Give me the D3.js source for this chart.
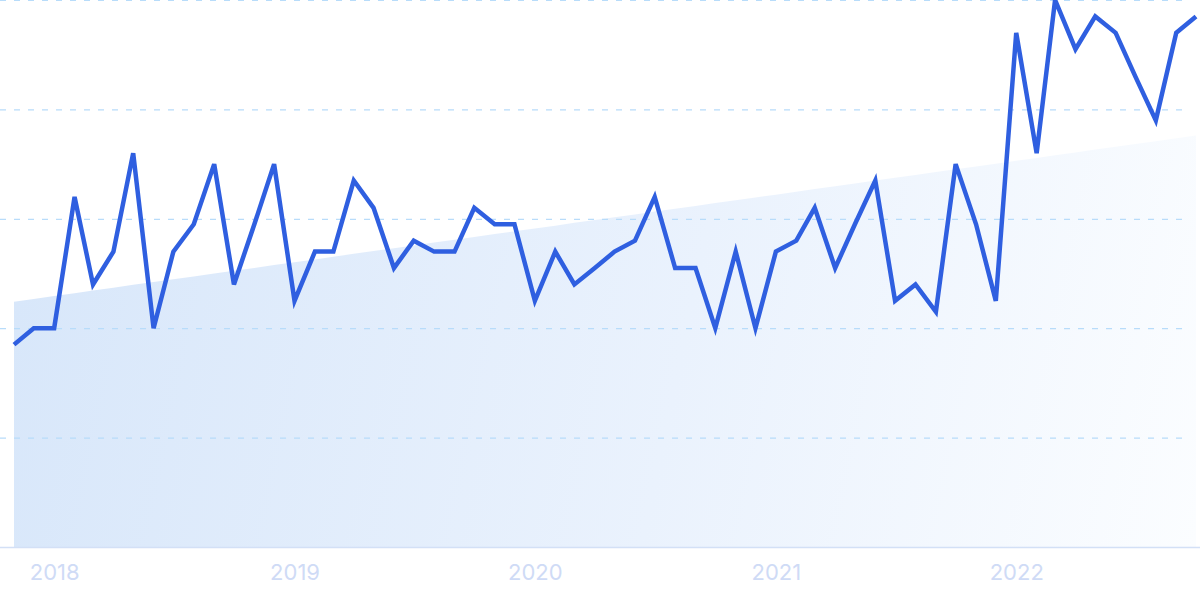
<!DOCTYPE html>
<html>
<head>
<meta charset="utf-8">
<script src="https://cdn.jsdelivr.net/npm/d3@7"></script>
<style>
  body { margin: 0; background: #fff; }
  svg { display: block; }
  .tick-label { font-family: Inter, "Noto Sans", sans-serif; font-size: 22px; fill: #cfdbf6; }
</style>
</head>
<body>
<div id="chart"></div>
<script>
// Chart size
const w = 1200;
const h = 599;
const padLeft = 14, padRight = 1196, padTop = 0, baseY = 547;

// Monthly interest values, Nov 2017 .. Oct 2022
const startMonth = [2017, 10]; // year, month index (0 = Jan)
const values = [
  37, 40, 40, 64, 48, 54, 72, 40, 54, 59,
  70, 48, 59, 70, 45, 54, 54, 67, 62, 51,
  56, 54, 54, 62, 59, 59, 45, 54, 48, 51,
  54, 56, 64, 51, 51, 40, 54, 40, 54, 56,
  62, 51, 59, 67, 45, 48, 43, 70, 59, 45,
  94, 72, 100, 91, 97, 94, 86, 78, 94, 97
];
const yearTicks = [2018, 2019, 2020, 2021, 2022];
const gridValues = [20, 40, 60, 80, 100];

const dataSet = values.map((v, i) => ({
  date: new Date(startMonth[0], startMonth[1] + i, 1),
  value: v,
  i: i
}));

const svg = d3.select("#chart")
  .append("svg")
  .attr("width", w)
  .attr("height", h);

const xScale = d3.scaleTime()
  .domain(d3.extent(dataSet, d => d.date))
  .range([padLeft, padRight]);

const yScale = d3.scaleLinear()
  .domain([0, 100])
  .range([baseY, padTop]);

// Least squares trend over the series
const mx = d3.mean(dataSet, d => d.i);
const my = d3.mean(dataSet, d => d.value);
const slope = d3.sum(dataSet, d => (d.i - mx) * (d.value - my)) / d3.sum(dataSet, d => (d.i - mx) * (d.i - mx));
const trend = dataSet.map(d => ({ date: d.date, value: my + slope * (d.i - mx) }));

// Gradient for the trend area
const defs = svg.append("defs");
const grad = defs.append("linearGradient")
  .attr("id", "trendFill")
  .attr("gradientUnits", "userSpaceOnUse")
  .attr("x1", padLeft).attr("y1", yScale(trend[0].value))
  .attr("x2", padRight).attr("y2", baseY);
grad.append("stop").attr("offset", "0%").attr("stop-color", "#d8e7fa");
grad.append("stop").attr("offset", "55%").attr("stop-color", "#eaf2fd");
grad.append("stop").attr("offset", "100%").attr("stop-color", "#fbfdff");

svg.append("path")
  .datum(trend)
  .attr("fill", "url(#trendFill)")
  .attr("d", d3.area()
    .x(d => xScale(d.date))
    .y0(baseY)
    .y1(d => yScale(d.value)));

// Dashed horizontal grid
svg.append("g")
  .selectAll("line")
  .data(gridValues)
  .enter()
  .append("line")
  .attr("x1", 0)
  .attr("x2", 1188)
  .attr("y1", d => yScale(d) + 0.5)
  .attr("y2", d => yScale(d) + 0.5)
  .attr("stroke", "#b8dcfa")
  .attr("stroke-width", 1.2)
  .attr("stroke-dasharray", "6 8");

// Baseline and year labels
const xAxis = d3.axisBottom(xScale)
  .tickValues(yearTicks.map(y => new Date(y, 0, 1)))
  .tickFormat(d3.timeFormat("%Y"))
  .tickSize(0)
  .tickPadding(17);

const axisG = svg.append("g")
  .attr("transform", "translate(0," + baseY + ")")
  .call(xAxis);
axisG.select(".domain").remove();
axisG.selectAll("text")
  .attr("class", "tick-label")
  .attr("fill", null);

svg.append("line")
  .attr("x1", 0).attr("x2", w)
  .attr("y1", baseY + 0.5).attr("y2", baseY + 0.5)
  .attr("stroke", "#d3e0f6")
  .attr("stroke-width", 1.5);

// Main series line
svg.append("path")
  .datum(dataSet)
  .attr("fill", "none")
  .attr("stroke", "#2f5fe0")
  .attr("stroke-width", 4.5)
  .attr("stroke-linejoin", "miter")
  .attr("d", d3.line()
    .x(d => xScale(d.date))
    .y(d => yScale(d.value)));
</script>
</body>
</html>
